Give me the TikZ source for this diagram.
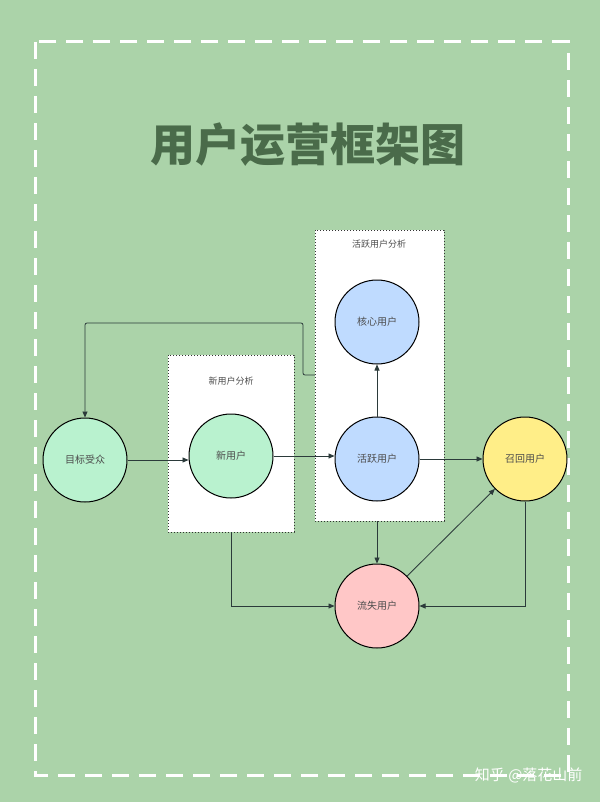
\documentclass[tikz,border=0pt]{standalone}
\usepackage{fontspec}
\setmainfont{Noto Sans CJK SC}
\usetikzlibrary{arrows.meta}
\definecolor{bg}{HTML}{ABD3A9}
\definecolor{ttl}{HTML}{4A6B4A}
\definecolor{cg}{HTML}{B9F2CF}
\definecolor{cb}{HTML}{BFDBFF}
\definecolor{cy}{HTML}{FFEE88}
\definecolor{cp}{HTML}{FFC7C7}
\definecolor{ln}{HTML}{2B3A3A}
\begin{document}
\begin{tikzpicture}[x=1pt,y=-1pt,
  circ/.style={circle,draw=black,line width=1pt,minimum size=84pt,inner sep=0pt,font=\fontsize{10}{11}\selectfont,text=black!70},
  grp/.style={draw=black!80,fill=white,dotted,line width=1pt},
  glab/.style={font=\fontsize{9}{10}\selectfont,text=black!70},
  conn/.style={draw=ln,line width=0.8pt,-{Triangle[length=6pt,width=5pt]}}]
\useasboundingbox (0,0) rectangle (600,802);
\fill[bg] (0,0) rectangle (600,802);
\draw[white,line width=3pt,dash pattern=on 17pt off 10pt] (35,42) rectangle (568,775);
\node[font=\fontsize{45}{50}\selectfont\bfseries,text=ttl] (title) at (308,145) {用户运营框架图};
\draw[grp] (168,355) rectangle (294,532);
\draw[grp] (315,230) rectangle (444,521);
\coordinate (nb) at (231,532);
\coordinate (al) at (315,375);
\node[glab] (l1) at (231,381) {新用户分析};
\node[glab] (l2) at (379,244) {活跃用户分析};
\node[circ,fill=cg] (t) at (85,460) {目标受众};
\node[circ,fill=cg] (n) at (231,456) {新用户};
\node[circ,fill=cb] (a) at (377,459) {活跃用户};
\node[circ,fill=cb] (k) at (377,322) {核心用户};
\node[circ,fill=cy] (r) at (525,459) {召回用户};
\node[circ,fill=cp] (l) at (377,606) {流失用户};
\coordinate (ab) at (377,521);
\draw[conn] (t.east) -- (n.west |- t.east);
\draw[conn] (n.east) -- (a.west |- n.east);
\draw[conn] (a) -- (k);
\draw[conn] (a) -- (r);
\draw[conn] (ab) -- (l);
\draw[conn] (nb) |- (l);
\draw[conn] (r) |- (l);
\draw[conn] (l) -- (r);
\draw[conn,rounded corners=2pt] (al) -- (303,375) -- (303,323) -- (85,323) -- (t);
\node[font=\fontsize{15}{17}\selectfont,text=white,anchor=east] (wm) at (586,775) {知乎 @落花山前};
\end{tikzpicture}
\end{document}
